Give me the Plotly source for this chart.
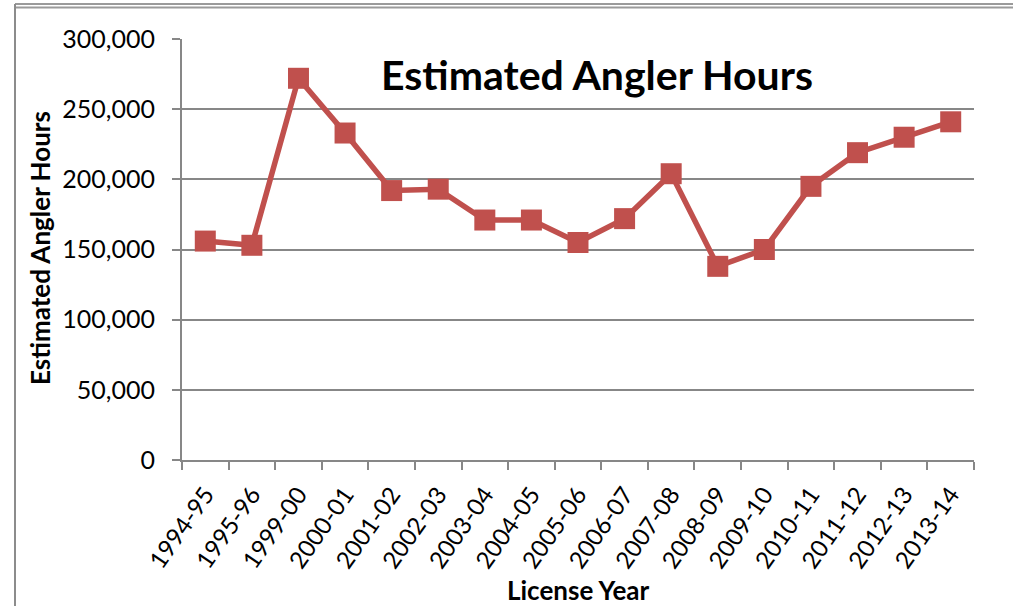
import plotly.graph_objects as go

years = ["1994-95", "1995-96", "1999-00", "2000-01", "2001-02", "2002-03", "2003-04",
         "2004-05", "2005-06", "2006-07", "2007-08", "2008-09", "2009-10", "2010-11",
         "2011-12", "2012-13", "2013-14"]
hours = [156000, 153000, 272000, 233000, 192000, 193000, 171000,
         171000, 155000, 172000, 204000, 138000, 150000, 195000,
         219000, 230000, 241000]

RED = "#C0504D"
GRID = "#878787"
FONT = "Lato, Carlito, 'Open Sans', sans-serif"

W, H = 1013, 606
L, R, T, B = 182, 39, 39, 146
PW, PH = W - L - R, H - T - B


def px(x):
    return (x - L) / PW


def py(y):
    return (H - B - y) / PH


fig = go.Figure()
fig.add_trace(go.Scatter(
    x=years, y=hours, mode="lines+markers",
    line=dict(color=RED, width=5.5),
    marker=dict(symbol="square", size=21, color=RED),
    showlegend=False, hoverinfo="x+y",
))

fig.update_layout(
    width=W, height=H,
    margin=dict(l=L, r=R, t=T, b=B, autoexpand=False),
    paper_bgcolor="white", plot_bgcolor="white",
    font=dict(family=FONT, color="black", size=24),
)
fig.update_xaxes(
    type="category", showgrid=False, automargin=False,
    range=[-0.5, len(years) - 0.5], autorange=False,
    showline=True, linecolor=GRID, linewidth=2,
    ticks="outside", tickson="boundaries", ticklen=8, tickcolor=GRID, tickwidth=2,
    tickangle=-55, tickfont=dict(size=24, family=FONT), ticklabelstandoff=9,
)
fig.update_yaxes(
    range=[0, 300000], dtick=50000, tickformat=",d", automargin=False,
    showgrid=True, gridcolor=GRID, gridwidth=2,
    showline=True, linecolor=GRID, linewidth=2,
    ticks="outside", ticklen=8, tickcolor=GRID, tickwidth=2, ticklabelstandoff=12,
    tickfont=dict(size=25, family=FONT), zeroline=False,
)

# axis titles
fig.add_annotation(
    text="<b>Estimated Angler Hours</b>", xref="paper", yref="paper",
    x=px(40), y=py(248), xanchor="center", yanchor="middle", showarrow=False,
    textangle=-90, font=dict(size=26, family=FONT, color="black"),
)
fig.add_annotation(
    text="<b>License Year</b>", xref="paper", yref="paper",
    x=px(578), y=py(590), xanchor="center", yanchor="middle", showarrow=False,
    font=dict(size=26, family=FONT, color="black"),
)
# chart title
fig.add_annotation(
    text="<b>Estimated Angler Hours</b>", xref="paper", yref="paper",
    x=px(597), y=py(74), xanchor="center", yanchor="middle", showarrow=False,
    font=dict(size=41, family=FONT, color="black"),
)

# page frame lines (top double line and left line)
fig.add_shape(type="line", xref="paper", yref="paper", x0=px(15), x1=px(1013), y0=py(4), y1=py(4),
              line=dict(color="#9a9a9a", width=2))
fig.add_shape(type="line", xref="paper", yref="paper", x0=px(15), x1=px(1013), y0=py(7.5), y1=py(7.5),
              line=dict(color="#9a9a9a", width=2))
fig.add_shape(type="line", xref="paper", yref="paper", x0=px(15), x1=px(15), y0=py(606), y1=py(4),
              line=dict(color="#8c8c8c", width=2))

fig.write_html("out.html", config={"displayModeBar": False},
               post_script="document.body.style.margin='0';")
